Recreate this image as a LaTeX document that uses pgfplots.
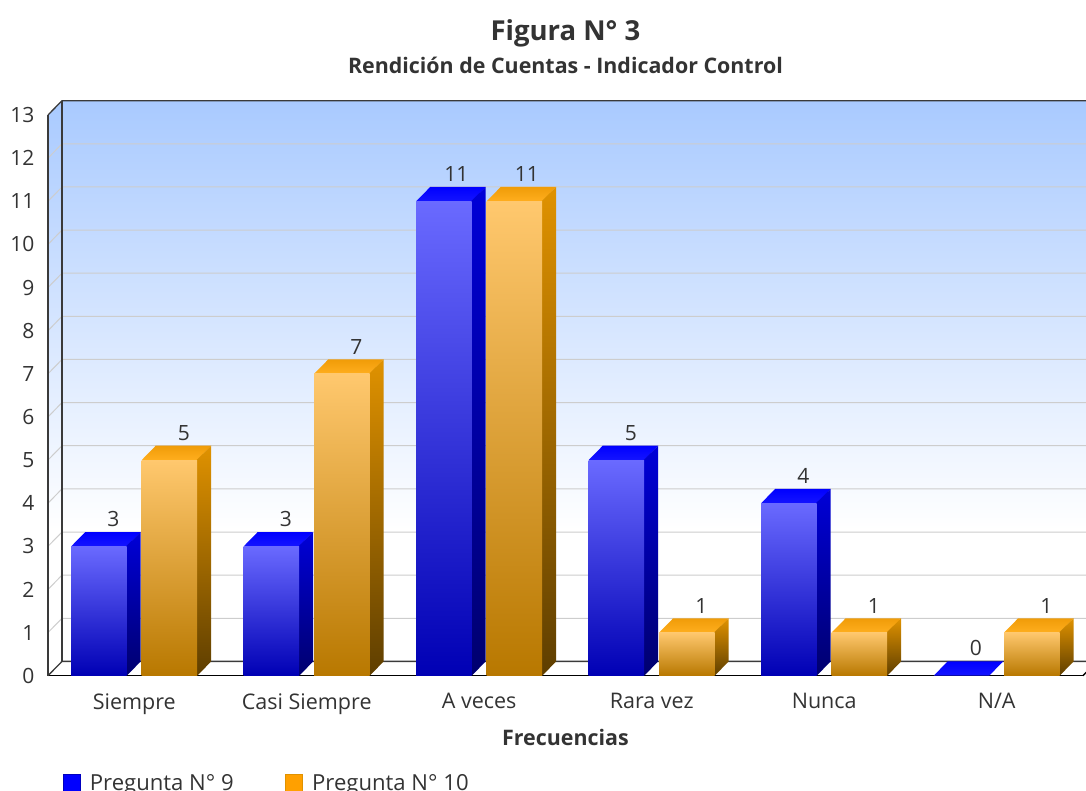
\documentclass[border=0pt]{standalone}
\usepackage{pgfplots}
\pgfplotsset{compat=1.18}
\usepackage{fontspec}
\setmainfont{Open Sans}

\definecolor{txt}{HTML}{333333}
\definecolor{wallline}{HTML}{3A3A3A}
\definecolor{gridc}{HTML}{CDCDCD}
\definecolor{wallA}{HTML}{A9CAFF}
\definecolor{b1}{HTML}{0000FF}
\definecolor{b2}{HTML}{1414FF}
\definecolor{b3}{HTML}{0000D8}
\definecolor{b4}{HTML}{00006E}
\definecolor{b5}{HTML}{6A6AFF}
\definecolor{b6}{HTML}{0000B4}
\definecolor{o1}{HTML}{F09C08}
\definecolor{o2}{HTML}{FFAE1E}
\definecolor{o3}{HTML}{E09200}
\definecolor{o4}{HTML}{5E3E00}
\definecolor{o5}{HTML}{FFC86E}
\definecolor{o6}{HTML}{B87800}
\definecolor{olegend}{HTML}{FFA000}

% depth of the 3D effect, data units (14 px across, 14.3 px up)
\newcommand{\dxv}{0.08116}
\newcommand{\dyv}{0.3316}

\newcommand{\wall}[2]{%
  \pgfmathsetmacro{\yy}{#1+\dyv}%
  \addplot[#2, forget plot] coordinates {(-0.5,#1) (-0.41884,\yy) (5.58116,\yy)};
}
% faces: x, value, shift of the front in px, colours
\newcommand{\topface}[5]{%
  \pgfmathsetmacro{\xl}{#1+#3/172.5}%
  \pgfmathsetmacro{\xr}{\xl+55.5/172.5}%
  \pgfmathsetmacro{\xlb}{\xl+\dxv}%
  \pgfmathsetmacro{\xrb}{\xr+\dxv}%
  \pgfmathsetmacro{\yt}{#2+\dyv}%
  \addplot[draw=none, top color=#4, bottom color=#5, forget plot]
    coordinates {(\xl,#2) (\xr,#2) (\xrb,\yt) (\xlb,\yt)} -- cycle;
}
\newcommand{\sideface}[5]{%
  \pgfmathsetmacro{\xr}{#1+#3/172.5+55.5/172.5}%
  \pgfmathsetmacro{\xrb}{\xr+\dxv}%
  \pgfmathsetmacro{\xs}{\xr-0.004}%
  \pgfmathsetmacro{\yt}{#2+\dyv}%
  \addplot[draw=none, top color=#4, bottom color=#5, forget plot]
    coordinates {(\xs,0) (\xr,0) (\xrb,\dyv) (\xrb,\yt) (\xs,#2)} -- cycle;
}
\newcommand{\frontface}[5]{%
  \addplot[ybar, bar width=55.5pt, bar shift=#3pt, draw=none,
      top color=#4, bottom color=#5, forget plot,
      nodes near coords,
      every node near coord/.append style={font=\fontsize{21}{25}\selectfont, text=txt,
        xshift=#3pt+\ifnum#2>9 12.5\else 14.5\fi pt, yshift=16pt}]
    coordinates {(#1,#2)};
}
\newcommand{\bluecube}[2]{%
  \topface{#1}{#2}{-63}{b1}{b2}%
  \sideface{#1}{#2}{-63}{b3}{b4}%
  \frontface{#1}{#2}{-35.25}{b5}{b6}%
}
\newcommand{\orangecube}[2]{%
  \topface{#1}{#2}{7.5}{o1}{o2}%
  \sideface{#1}{#2}{7.5}{o3}{o4}%
  \frontface{#1}{#2}{35.25}{o5}{o6}%
}

\begin{document}
\begin{tikzpicture}
\clip[use as bounding box] (-48pt,-115.3pt) rectangle (1038pt,675.7pt);
\begin{axis}[
    scale only axis, width=1035pt, height=560.7pt,
    xmin=-0.5, xmax=5.5, ymin=0, ymax=13,
    clip=false,
    axis x line=bottom, axis y line=left,
    axis line style={-, line width=1.3pt, draw=black},
    ytick={0,...,13}, xtick={0,...,5},
    xticklabels={Siempre,Casi Siempre,A veces,Rara vez,Nunca,N/A},
    major tick length=0pt,
    /pgf/number format/assume math mode=true,
    tick label style={font=\fontsize{21.5}{25}\selectfont, text=txt},
    yticklabel style={xshift=-10pt, font=\fontsize{21}{25}\selectfont},
    xticklabel style={yshift=-14pt},
    xlabel={\textbf{Frecuencias}},
    xlabel style={font=\fontsize{21.4}{25}\selectfont, text=txt, yshift=-8pt},
    title={{\fontsize{27.5}{32}\selectfont\bfseries Figura N° 3}\\[9pt]{\fontsize{21.4}{25}\selectfont\bfseries Rendición de Cuentas - Indicador Control}},
    title style={align=center, text=txt, anchor=south, yshift=32pt},
    legend style={draw=none, fill=none, at={(0.0114,-0.1685)}, anchor=north west,
      legend columns=-1, font=\fontsize{22.1}{26}\selectfont, text=txt,
      /tikz/every odd column/.append style={column sep=7.5pt},
      /tikz/every even column/.append style={column sep=49.5pt}},
    legend cell align=left,
]
% walls: white below 3.38
\addplot[draw=none, top color=wallA, bottom color=white, forget plot]
  coordinates {(-0.41884,3.38) (5.58116,3.38) (5.58116,13.3316) (-0.41884,13.3316)} -- cycle;
\addplot[draw=none, top color=wallA, bottom color=white, forget plot]
  coordinates {(-0.5,3.38) (-0.41884,3.38) (-0.41884,13.3316) (-0.5,13)} -- cycle;
\pgfplotsinvokeforeach{1,...,12}{\wall{#1}{gridc, line width=1pt}}
\wall{0}{wallline, line width=1.3pt}
\wall{13}{wallline, line width=1.3pt}
\addplot[wallline, line width=1.3pt, forget plot] coordinates {(-0.41884,0.3316) (-0.41884,13.3316)};
\addplot[wallline, line width=1.3pt, forget plot] coordinates {(-0.5,0) (-0.5,13)};
\addplot[black, line width=1.3pt, forget plot] coordinates {(5.5,0) (5.58116,0.3316)};

% bars
\bluecube{0}{3}   \orangecube{0}{5}
\bluecube{1}{3}   \orangecube{1}{7}
\bluecube{2}{11}  \orangecube{2}{11}
\bluecube{3}{5}   \orangecube{3}{1}
\bluecube{4}{4}   \orangecube{4}{1}
\topface{5}{0}{-63}{b1}{b2}
\addplot[ybar, bar width=55.5pt, bar shift=-35.25pt, draw=none, fill=none, forget plot,
    nodes near coords,
    every node near coord/.append style={font=\fontsize{21}{25}\selectfont, text=txt, xshift=-20.75pt, yshift=16pt}]
  coordinates {(5,0)};
\orangecube{5}{1}

\addlegendimage{legend image code/.code={\draw[fill=blue, draw=blue!75!black] (0pt,-8.5pt) rectangle (17pt,8.5pt);}}
\addlegendentry{Pregunta N° 9}
\addlegendimage{legend image code/.code={\draw[fill=olegend, draw=o3] (0pt,-8.5pt) rectangle (17pt,8.5pt);}}
\addlegendentry{Pregunta N° 10}
\end{axis}
\end{tikzpicture}
\end{document}
